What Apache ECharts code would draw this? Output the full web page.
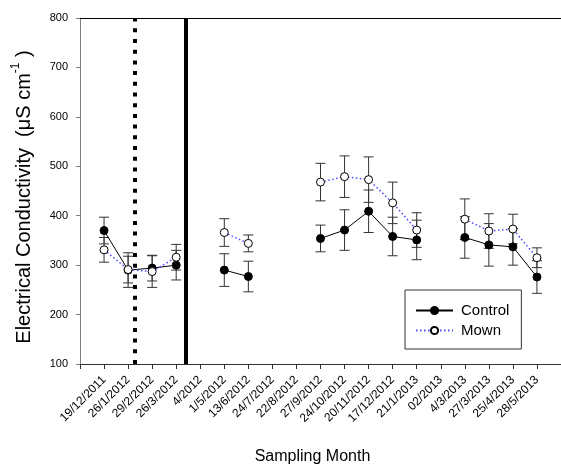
<!DOCTYPE html>
<html>
<head>
<meta charset="utf-8">
<script src="https://cdn.jsdelivr.net/npm/echarts@6/dist/echarts.min.js"></script>
<style>
  html, body { margin: 0; padding: 0; background: #fff; }
  #main { width: 561px; height: 467px; }
</style>
</head>
<body>
<div id="main"></div>
<script>
// sampling dates, one tick each (positions 1..19)
var months = ['19/12/2011', '26/1/2012', '29/2/2012', '26/3/2012', '4/2012', '1/5/2012',
  '13/6/2012', '24/7/2012', '22/8/2012', '27/9/2012', '24/10/2012', '20/11/2012',
  '17/12/2012', '21/1/2013', '02/2013', '4/3/2013', '27/3/2013', '25/4/2013', '28/5/2013'];

// mean EC and error, null = not sampled
var control    = [370, 290, 294, 300, null, 290, 277, null, null, 354, 371, 409, 358, 351, null, 356, 341, 337, 276];
var controlErr = [27, 35, 26, 30, null, 33, 31, null, null, 27, 41, 43, 39, 40, null, 42, 43, 37, 33];
var mown       = [331, 291, 287, 316, null, 366, 344, null, null, 468, 479, 473, 426, 371, null, 393, 369, 373, 315];
var mownErr    = [25, 27, 32, 26, null, 28, 17, null, null, 38, 42, 46, 42, 35, null, 41, 35, 30, 20];

// treatment events (dotted / solid vertical lines), in tick units
var dottedLine = [2.29];
var solidLine = [4.41];

var font = "'Liberation Sans', Arial, sans-serif";

function toPoints(vals) {
  return vals.map(function (v, i) { return [i + 1, v == null ? '-' : v]; });
}
function toBars(vals, errs) {
  var out = [];
  vals.forEach(function (v, i) {
    if (v != null) out.push([i + 1, v - errs[i], v + errs[i]]);
  });
  return out;
}

function renderErr(params, api) {
  var x = api.value(0);
  var lo = api.coord([x, api.value(1)]);
  var hi = api.coord([x, api.value(2)]);
  var w = 5;
  var st = { stroke: '#333', lineWidth: 1 };
  return {
    type: 'group',
    children: [
      { type: 'line', shape: { x1: lo[0], y1: lo[1], x2: hi[0], y2: hi[1] }, style: st },
      { type: 'line', shape: { x1: hi[0] - w, y1: hi[1], x2: hi[0] + w, y2: hi[1] }, style: st },
      { type: 'line', shape: { x1: lo[0] - w, y1: lo[1], x2: lo[0] + w, y2: lo[1] }, style: st }
    ]
  };
}

var myChart = echarts.init(document.getElementById('main'));

myChart.setOption({
  animation: false,
  textStyle: { fontFamily: font },
  grid: { left: 80, right: 0, top: 18, bottom: 103, outerBoundsMode: 'none', containLabel: false },
  legend: {
    orient: 'vertical',
    left: 405,
    top: 290,
    data: ['Control', 'Mown'],
    itemWidth: 37,
    itemHeight: 9,
    itemGap: 5,
    padding: [13, 12, 11, 10],
    borderColor: '#333',
    borderWidth: 1,
    textStyle: { fontSize: 15, color: '#000', fontFamily: font, padding: [0, 0, 0, 3] }
  },
  xAxis: [{
    type: 'value',
    min: 0,
    max: 20,
    interval: 1,
    name: 'Sampling Month',
    nameLocation: 'middle',
    nameGap: 85,
    nameTextStyle: { fontSize: 16, color: '#000', fontFamily: font, padding: [0, 16, 0, 0] },
    axisLine: { lineStyle: { color: '#333' } },
    axisTick: { length: 5, lineStyle: { color: '#333' } },
    splitLine: { show: false },
    axisLabel: {
      rotate: 45,
      fontSize: 12,
      color: '#000',
      margin: 14,
      formatter: function (v) { return months[v - 1] || ''; }
    }
  }, {
    type: 'value',
    position: 'top',
    min: 0,
    max: 20,
    axisLine: { show: true, lineStyle: { color: '#000' } },
    axisTick: { show: false },
    axisLabel: { show: false },
    splitLine: { show: false }
  }],
  yAxis: {
    type: 'value',
    min: 100,
    max: 800,
    interval: 100,
    name: 'Electrical Conductivity  (μS cm{sup|-1} )',
    nameLocation: 'middle',
    nameGap: 42,
    nameTextStyle: {
      fontSize: 20,
      color: '#000',
      fontFamily: font,
      padding: [0, 12, 0, 0],
      rich: { sup: { fontSize: 12, verticalAlign: 'top', lineHeight: 28, fontFamily: font } }
    },
    axisLine: { show: true, lineStyle: { color: '#808080' } },
    axisTick: { show: true, length: 4, lineStyle: { color: '#808080' } },
    splitLine: { show: false },
    axisLabel: { fontSize: 11, color: '#000', margin: 12 }
  },
  series: [
    {
      name: 'ctrlErr',
      type: 'custom',
      renderItem: renderErr,
      encode: { x: 0, y: [1, 2] },
      data: toBars(control, controlErr),
      z: 1,
      silent: true
    },
    {
      name: 'mownErr',
      type: 'custom',
      renderItem: renderErr,
      encode: { x: 0, y: [1, 2] },
      data: toBars(mown, mownErr),
      z: 1,
      silent: true
    },
    {
      name: 'Control',
      type: 'line',
      data: toPoints(control),
      symbol: 'circle',
      symbolSize: 8,
      showAllSymbol: true,
      connectNulls: false,
      lineStyle: { color: '#000', width: 1 },
      itemStyle: { color: '#000', borderColor: '#000', borderWidth: 1 },
      z: 3,
      markLine: {
        silent: true,
        symbol: 'none',
        label: { show: false },
        data: dottedLine.map(function (x) {
          return { xAxis: x, lineStyle: { color: '#000', width: 4, type: [4, 6.7], cap: 'butt' } };
        }).concat(solidLine.map(function (x) {
          return { xAxis: x, lineStyle: { color: '#000', width: 4, type: 'solid' } };
        }))
      }
    },
    {
      name: 'Mown',
      type: 'line',
      data: toPoints(mown),
      symbol: 'circle',
      symbolSize: 8,
      showAllSymbol: true,
      connectNulls: false,
      lineStyle: { color: '#4a4aff', width: 1.5, type: [1.5, 2.5] },
      itemStyle: { color: '#fff', borderColor: '#000', borderWidth: 1 },
      z: 4
    }
  ]
});
</script>
</body>
</html>
